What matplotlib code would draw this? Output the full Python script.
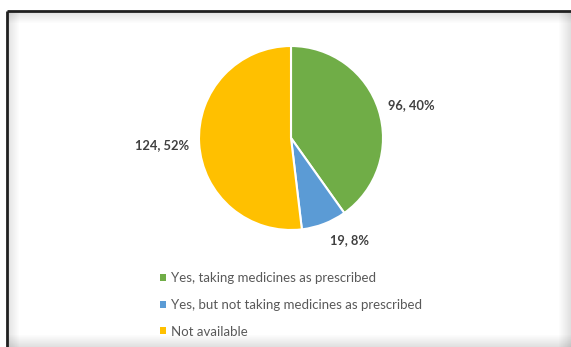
import matplotlib
matplotlib.use("Agg")
import matplotlib.pyplot as plt
from matplotlib.patches import Patch, Rectangle
import numpy as np

categories = ["Yes, taking medicines as prescribed",
              "Yes, but not taking medicines as prescribed",
              "Not available"]
values = [96, 19, 124]
percents = ["40%", "8%", "52%"]
colors = ["#70AD47", "#5B9BD5", "#FFC000"]

W, H = 571, 347
fig = plt.figure(figsize=(W / 100, H / 100), dpi=100)
fig.patch.set_facecolor("white")
ax = fig.add_axes([0, 0, 1, 1])

cx, cy, r = 291, H - 138, 92
wedges, _ = ax.pie(values, colors=colors, startangle=90, counterclock=False,
                   center=(cx, cy), radius=r,
                   wedgeprops=dict(edgecolor="white", linewidth=1.5))
ax.set_xlim(0, W)
ax.set_ylim(0, H)
ax.set_aspect("equal")
ax.axis("off")

label_pos = [(411, H - 105), (350, H - 240), (162, H - 145)]
for v, p, pos in zip(values, percents, label_pos):
    ax.text(pos[0], pos[1], f"{v}, {p}", ha="center", va="center",
            fontsize=9.3, color="#404040", family="Lato", fontweight="bold")

# frame with shadow
for i in range(12):
    a = 0.12 * (1 - i / 12)
    ax.add_patch(Rectangle((7 + i, 0), 1, H - 11, color="black", alpha=a, lw=0))
    ax.add_patch(Rectangle((7, H - 12 - i), W, 1, color="black", alpha=a, lw=0))
    ax.add_patch(Rectangle((W - 1 - i, 0), 1, H - 12, color="black", alpha=a, lw=0))
    ax.add_patch(Rectangle((7, i), W, 1, color="black", alpha=a, lw=0))
ax.plot([7, 7], [0, H - 11], color="#202020", lw=2, solid_capstyle="butt")
ax.plot([7, W], [H - 11, H - 11], color="#202020", lw=2, solid_capstyle="butt")

handles = [Patch(facecolor=c, edgecolor="none") for c in colors]
leg = fig.legend(handles, categories, loc="upper left",
                 bbox_to_anchor=(160 / W, 1 - 272 / H), frameon=False,
                 handlelength=0.45, handleheight=0.45, handletextpad=0.35,
                 labelspacing=1.12, prop=dict(family="Lato", size=9.5),
                 labelcolor="#595959", borderaxespad=0, borderpad=0)

fig.savefig("out.png", dpi=100, facecolor="white")
